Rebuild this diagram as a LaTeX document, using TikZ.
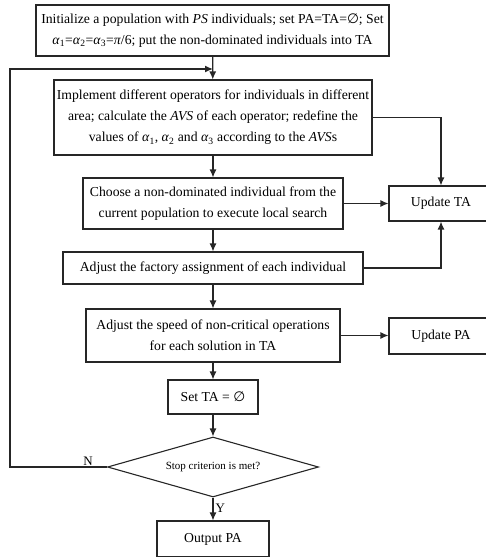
\documentclass[tikz,border=0pt]{standalone}
\usepackage{fontspec}
\setmainfont{Liberation Serif}
\newfontfamily\symf{DejaVu Sans}
\usetikzlibrary{shapes.geometric,arrows.meta}
\newcommand{\al}[1]{\textit{α}\textsubscript{#1}}
\begin{document}
\begin{tikzpicture}[x=1pt,y=-1pt,
  box/.style={draw=black!85,line width=1.1pt,align=center,inner sep=0pt,
    font=\fontsize{13.7}{21}\selectfont},
  arr/.style={draw=black!85,line width=1.2pt,-{Latex[length=8pt,width=7pt]}},
  ln/.style={draw=black!85,line width=1.2pt}]
\useasboundingbox (0,0) rectangle (486,557);
\node[box,minimum width=353pt,minimum height=51pt] (b1) at (212.5,30.5)
  {Initialize a population with \textit{PS} individuals; set PA=TA={\symf ∅}; Set\\
   \al{1}=\al{2}=\al{3}=\textit{π}/6; put the non-dominated individuals into TA};
\node[box,minimum width=318pt,minimum height=75pt] (b2) at (213,117.5)
  {Implement different operators for individuals in different\\
   area; calculate the \textit{AVS} of each operator; redefine the\\
   values of \al{1}, \al{2} and \al{3} according to the \textit{AVS}s};
\node[box,minimum width=260pt,minimum height=51pt] (b3) at (213,203.5)
  {Choose a non-dominated individual from the\\ current population to execute local search};
\node[box,minimum width=300pt,minimum height=32pt] (b4) at (213,268)
  {Adjust the factory assignment of each individual};
\node[box,minimum width=254pt,minimum height=53pt] (b5) at (213,335.5)
  {Adjust the speed of non-critical operations\\ for each solution in TA};
\node[box,minimum width=90pt,minimum height=34pt] (b6) at (213,397)
  {Set TA = {\symf ∅}};
\node[box,diamond,aspect=3.5,minimum width=211pt,minimum height=60pt,
  font=\fontsize{11}{12}\selectfont] (dia) at (213,467) {Stop criterion is met?};
\node[box,minimum width=112pt,minimum height=36pt] (out) at (213,539) {Output PA};
\node[box,minimum width=104pt,minimum height=35pt] (uta) at (441,203.5) {Update TA};
\node[box,minimum width=104pt,minimum height=36pt] (upa) at (441,336) {Update PA};
\coordinate (cL) at (10,69);
\coordinate (cT) at (213,69);
\draw[arr] (b1) -- (b2);
\draw[arr] (dia.west) -| (cL) -- (cT);
\draw[arr] (b2.east) -| (uta.north);
\draw[arr] (b2) -- (b3);
\draw[arr] (b3.east) -- (uta.west);
\draw[arr] (b3) -- (b4);
\draw[arr] (b4.east) -| (uta.south);
\draw[arr] (b4) -- (b5);
\draw[arr] (b5.east) -- (b5.east -| upa.west);
\draw[arr] (b5) -- (b6);
\draw[arr] (b6) -- (dia);
\draw[arr] (dia) -- node[right,pos=0.45,inner sep=2pt,font=\fontsize{13}{14}\selectfont] (ylab) {Y} (out);
\node[font=\fontsize{13}{14}\selectfont,anchor=south,inner sep=1pt] (nlab) at (88,467) {N};
\end{tikzpicture}
\end{document}
